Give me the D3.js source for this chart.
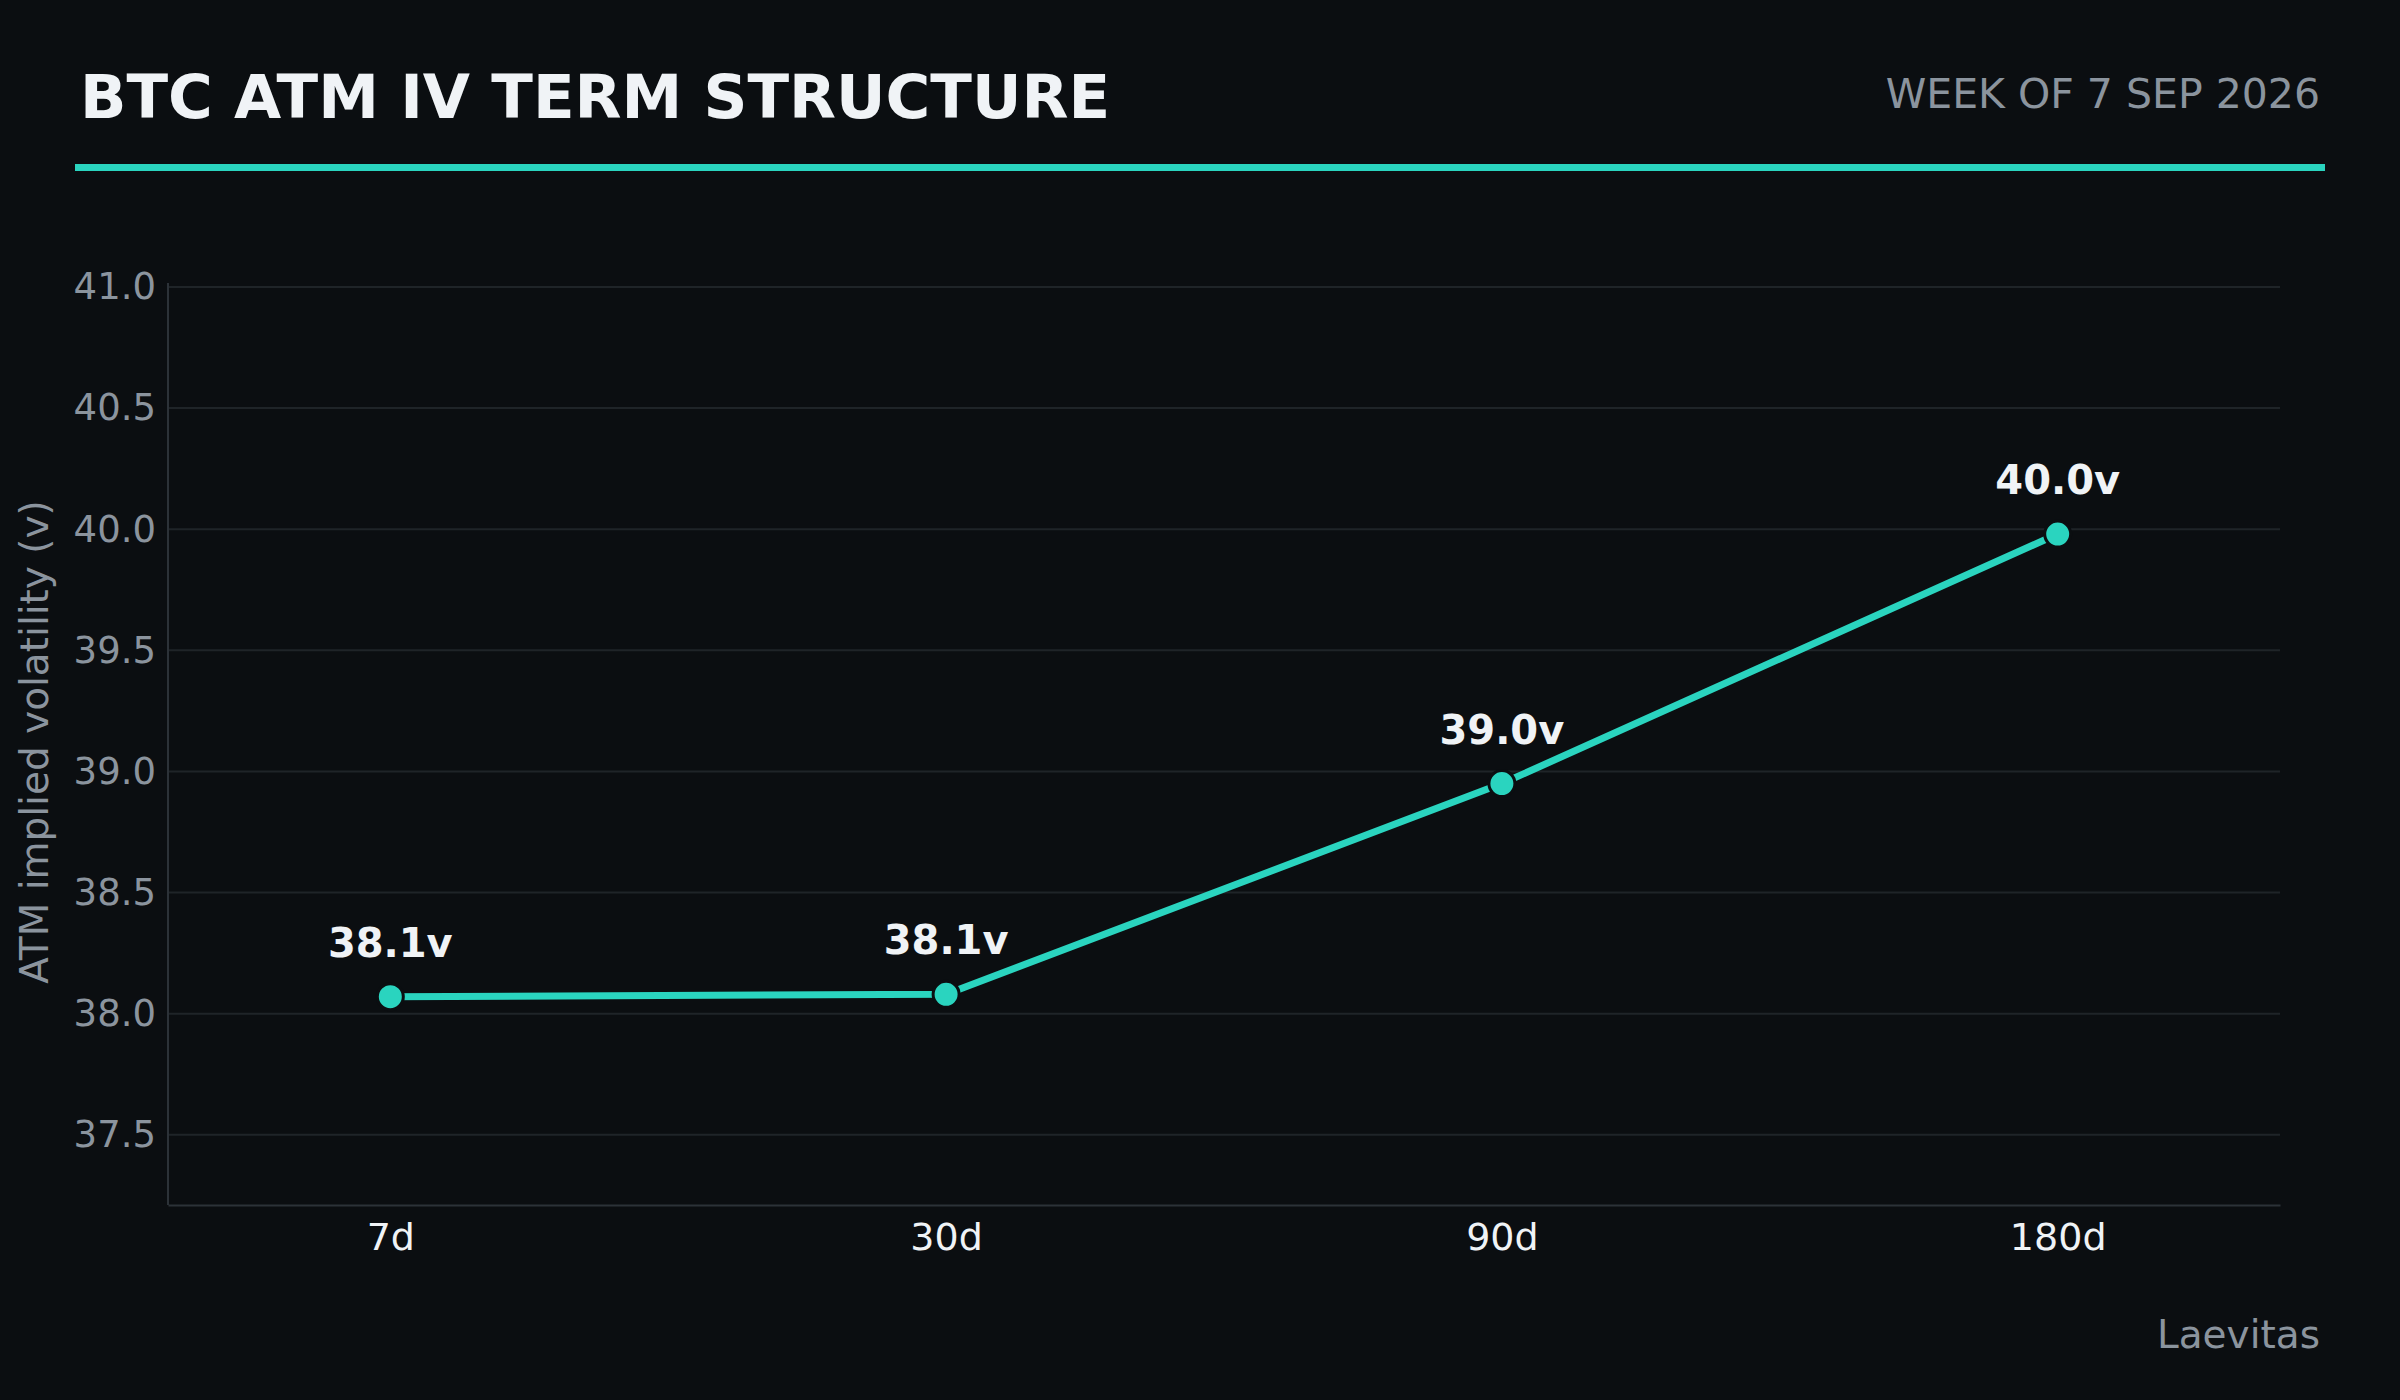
<!DOCTYPE html>
<html><head><meta charset="utf-8">
<script src="https://cdn.jsdelivr.net/npm/d3@7"></script>
<style>body{margin:0;background:#0b0e11;}</style>
</head><body>
<script>
// data
var tenors = ["7d", "30d", "90d", "180d"];
var atmIV = [38.07, 38.08, 38.95, 39.98];
var ivLabels = ["38.1v", "38.1v", "39.0v", "40.0v"];
var yTicks = [37.5, 38.0, 38.5, 39.0, 39.5, 40.0, 40.5, 41.0];

var W = 2400, H = 1400;
var margin = {top: 287, right: 120, bottom: 195, left: 168},
    width = W - margin.left - margin.right,
    height = H - margin.top - margin.bottom;
var font = "'DejaVu Sans', sans-serif";
var teal = "#2ad4bf";

var svg = d3.select("body").append("svg")
    .attr("width", W).attr("height", H)
    .style("background-color", "#0b0e11");

// header
svg.append("text").attr("x", 80).attr("y", 118)
    .attr("font-family", font).attr("font-weight", "bold").attr("font-size", 61)
    .attr("fill", "#f0f3f6").text("BTC ATM IV TERM STRUCTURE");
svg.append("text").attr("x", 2320).attr("y", 108).attr("text-anchor", "end")
    .attr("font-family", font).attr("font-size", 41)
    .attr("fill", "#8b949e").text("WEEK OF 7 SEP 2026");
svg.append("rect").attr("x", 75).attr("y", 164).attr("width", 2250).attr("height", 7)
    .attr("fill", teal);

var g = svg.append("g").attr("transform", "translate(" + margin.left + "," + margin.top + ")");

var x = d3.scalePoint().domain(tenors).range([0, width]).padding(0.4);
var y = d3.scaleLinear().domain([37.21, 41.0]).range([height, 0]);

// grid
g.selectAll(".grid").data(yTicks).enter().append("line")
    .attr("x1", 0).attr("x2", width)
    .attr("y1", d => y(d)).attr("y2", d => y(d))
    .attr("stroke", "#1f2428").attr("stroke-width", 2);

// axes
var yAxis = g.append("g").call(d3.axisLeft(y).tickValues(yTicks).tickFormat(d3.format(".1f")).tickSize(0).tickPadding(12));
yAxis.select(".domain").attr("stroke", "#2c3238").attr("stroke-width", 2).attr("d", "M0," + (y(41.0) - 4) + "V" + height);
yAxis.selectAll("text").attr("font-family", font).attr("font-size", 37).attr("fill", "#8b949e");

var xAxis = g.append("g").attr("transform", "translate(0," + height + ")")
    .call(d3.axisBottom(x).tickSize(0).tickPadding(18));
xAxis.select(".domain").attr("stroke", "#2c3238").attr("stroke-width", 2);
xAxis.selectAll("text").attr("font-family", font).attr("font-size", 38).attr("fill", "#f0f3f6");

svg.append("text")
    .attr("transform", "translate(" + 48 + "," + 742 + ") rotate(-90)")
    .attr("text-anchor", "middle").attr("font-family", font).attr("font-size", 39)
    .attr("fill", "#8b949e").text("ATM implied volatility (v)");

// line
var pts = tenors.map((t, i) => ({t: t, v: atmIV[i], l: ivLabels[i]}));
g.append("path").datum(pts)
    .attr("d", d3.line().x(d => x(d.t)).y(d => y(d.v)))
    .attr("fill", "none").attr("stroke", teal).attr("stroke-width", 7);

g.selectAll(".pt").data(pts).enter().append("circle")
    .attr("cx", d => x(d.t)).attr("cy", d => y(d.v)).attr("r", 13)
    .attr("fill", teal).attr("stroke", "#0b0e11").attr("stroke-width", 3);

g.selectAll(".lbl").data(pts).enter().append("text")
    .attr("x", d => x(d.t)).attr("y", d => y(d.v) - 40)
    .attr("text-anchor", "middle").attr("font-family", font).attr("font-weight", "bold")
    .attr("font-size", 40).attr("fill", "#f0f3f6").text(d => d.l);

svg.append("text").attr("x", 2320).attr("y", 1348).attr("text-anchor", "end")
    .attr("font-family", font).attr("font-size", 39)
    .attr("fill", "#8b949e").text("Laevitas");
</script>
</body></html>
